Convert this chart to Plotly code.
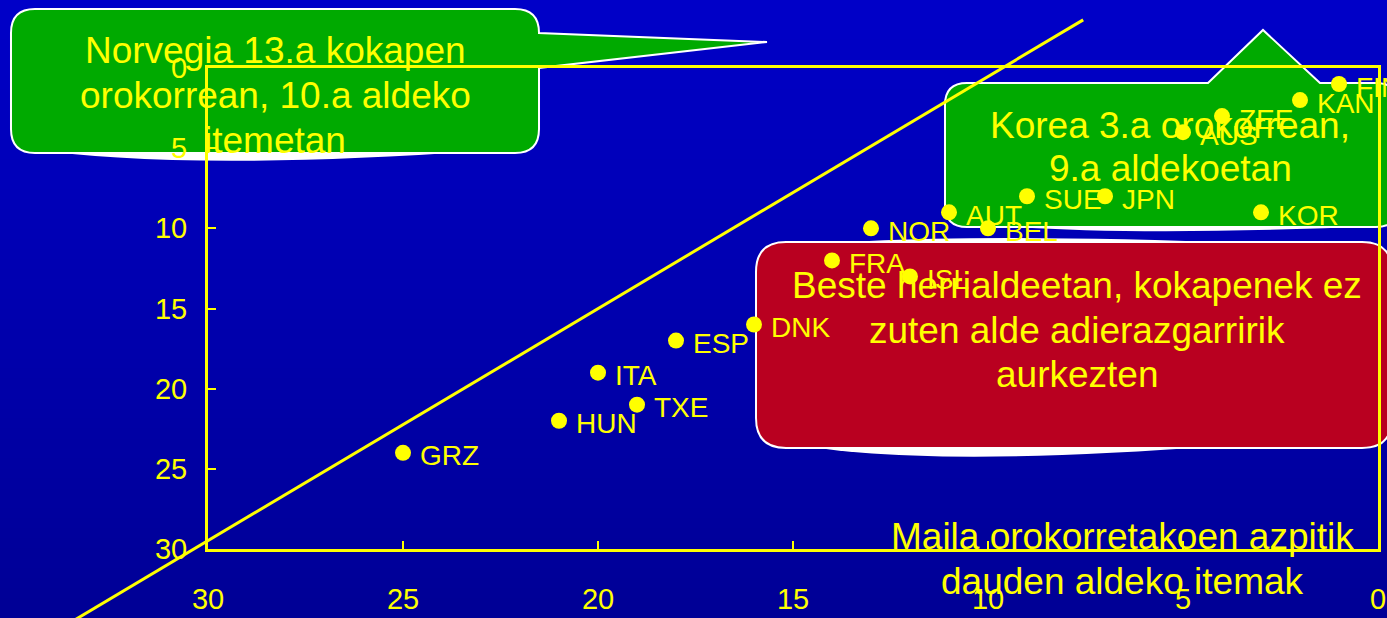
import numpy as np
import plotly.graph_objects as go

countries = ["GRZ", "HUN", "ITA", "TXE", "ESP", "DNK", "FRA", "ISL", "NOR",
             "AUT", "BEL", "SUE", "JPN", "KOR", "AUS", "ZEE", "KAN", "FIN"]
overall_rank = [25, 21, 20, 19, 18, 16, 14, 12, 13, 11, 10, 9, 7, 3, 5, 4, 2, 1]
item_rank = [24, 22, 19, 21, 17, 16, 12, 13, 10, 9, 10, 8, 8, 9, 4, 3, 2, 1]
diag_overall = [33.4, 7.56]
diag_item = [34.4, -3.0]
tick_vals = [0, 5, 10, 15, 20, 25, 30]

norway_text = ["Norvegia 13.a kokapen", "orokorrean, 10.a aldeko", "itemetan"]
korea_text = ["Korea 3.a orokorrean,", "9.a aldekoetan"]
others_text = ["Beste herrialdeetan, kokapenek ez", "zuten alde adierazgarririk", "aurkezten"]
below_text = ["Maila orokorretakoen azpitik", "dauden aldeko itemak"]

YEL = "#FFFF00"
GREEN = "#00AA00"
RED = "#B90020"
FONT = "Liberation Sans, Arial, sans-serif"

W, H = 1387, 618
L, R, T, B = 208, 9, 68, 69
pw, ph = W - L - R, H - T - B


def pp(x, y):
    # page pixels -> paper coords
    return (x - L) / pw, (H - B - y) / ph


def path(cmds):
    out = ""
    for c, pts in cmds:
        out += c + " ".join("%.5f,%.5f" % pp(x, y) for x, y in pts) + " "
    return out + "Z"


def bubble(x0, y0, x1, y1, r, top=None, right=None):
    cmds = [("M", [(x0 + r, y0)])]
    if top:
        cmds += [("L", [p]) for p in top]
    cmds += [("L", [(x1 - r, y0)]), ("Q", [(x1, y0), (x1, y0 + r)])]
    if right:
        cmds += [("L", [p]) for p in right]
    cmds += [("L", [(x1, y1 - r)]), ("Q", [(x1, y1), (x1 - r, y1)]),
             ("L", [(x0 + r, y1)]), ("Q", [(x0, y1), (x0, y1 - r)]),
             ("L", [(x0, y0 + r)]), ("Q", [(x0, y0), (x0 + r, y0)])]
    return path(cmds)


shapes = []

# background gradient
n = 62
for i in range(n):
    c = np.interp(i, [0, n - 1], [200, 150])
    x0, y0 = pp(0, i * H / n)
    x1, y1 = pp(W, (i + 1) * H / n + 1)
    shapes.append(dict(type="rect", xref="paper", yref="paper", x0=x0, x1=x1, y0=y0, y1=y1,
                       fillcolor="rgb(0,0,%d)" % c, line_width=0, layer="below"))

# white "shadow" waves
waves = [
    [("M", [(25, 148)]), ("Q", [(180, 172), (480, 151)]), ("L", [(480, 148)])],
    [("M", [(775, 440)]), ("Q", [(900, 470), (1220, 446)]), ("L", [(1220, 440)])],
    [("M", [(770, 250)]), ("Q", [(900, 230), (1250, 243)]), ("L", [(1250, 250)])],
    [("M", [(960, 222)]), ("Q", [(1100, 238), (1380, 226)]), ("L", [(1380, 222)])],
]
for w in waves:
    shapes.append(dict(type="path", xref="paper", yref="paper", path=path(w),
                       fillcolor="white", line_width=0, layer="below"))

shapes.append(dict(type="path", xref="paper", yref="paper", layer="below",
                   path=bubble(11, 9, 539, 153, 24, right=[(539, 33), (767, 42), (539, 68)]),
                   fillcolor=GREEN, line=dict(color="white", width=2)))
shapes.append(dict(type="path", xref="paper", yref="paper", layer="below",
                   path=bubble(945, 83, 1398, 227, 22, top=[(1208, 83), (1263, 30), (1320, 83)]),
                   fillcolor=GREEN, line=dict(color="white", width=2)))
shapes.append(dict(type="path", xref="paper", yref="paper", layer="below",
                   path=bubble(756, 242, 1392, 448, 30),
                   fillcolor=RED, line=dict(color="white", width=2)))

# diagonal line
dx0 = (30 - diag_overall[0]) / 30
dx1 = (30 - diag_overall[1]) / 30
dy0 = (30 - diag_item[0]) / 30
dy1 = (30 - diag_item[1]) / 30
shapes.append(dict(type="line", xref="paper", yref="paper", x0=dx0, y0=dy0, x1=dx1, y1=dy1,
                   line=dict(color=YEL, width=3), layer="above"))

annotations = []


def add_lines(lines, cx, baselines, size=37):
    for txt, b in zip(lines, baselines):
        x, y = pp(cx, b - 0.3 * size)
        annotations.append(dict(text=txt, x=x, y=y, xref="paper", yref="paper",
                                xanchor="center", yanchor="middle", showarrow=False,
                                font=dict(family=FONT, size=size, color=YEL)))


add_lines(norway_text, 275, [62, 107, 152])
add_lines(korea_text, 1170, [137, 180])
add_lines(others_text, 1077, [297, 342, 386])
add_lines(below_text, 1122, [548, 593])

for c, xo, yi in zip(countries, overall_rank, item_rank):
    annotations.append(dict(text=c, x=xo, y=yi, xref="x", yref="y", showarrow=False,
                            xanchor="left", yanchor="middle", xshift=15, yshift=-3,
                            font=dict(family=FONT, size=28, color=YEL)))

fig = go.Figure()
fig.add_trace(go.Scatter(x=overall_rank, y=item_rank, mode="markers",
                         marker=dict(color=YEL, size=16), cliponaxis=False,
                         showlegend=False, hoverinfo="skip"))

axis_style = dict(range=[30, 0], tickvals=tick_vals, ticks="inside", ticklen=8, tickwidth=2,
                  tickcolor=YEL, showline=True, linecolor=YEL, linewidth=3, mirror=True,
                  showgrid=False, zeroline=False, automargin=False,
                  tickfont=dict(family=FONT, size=29, color=YEL))

fig.update_layout(
    width=W, height=H,
    margin=dict(l=L, r=R, t=T, b=B),
    paper_bgcolor="#0000B4",
    plot_bgcolor="rgba(0,0,0,0)",
    shapes=shapes,
    annotations=annotations,
    showlegend=False,
    xaxis=dict(axis_style, ticklabelstandoff=22),
    yaxis=dict(axis_style, ticklabelstandoff=12),
)

js = ("var d=document.getElementById('{plot_id}');"
      "d.style.position='fixed';d.style.left='0px';d.style.top='0px';"
      "document.body.style.margin='0';document.body.style.overflow='hidden';"
      "document.documentElement.style.overflow='hidden';")
fig.write_html("out.html", config={"displayModeBar": False}, post_script=js)
